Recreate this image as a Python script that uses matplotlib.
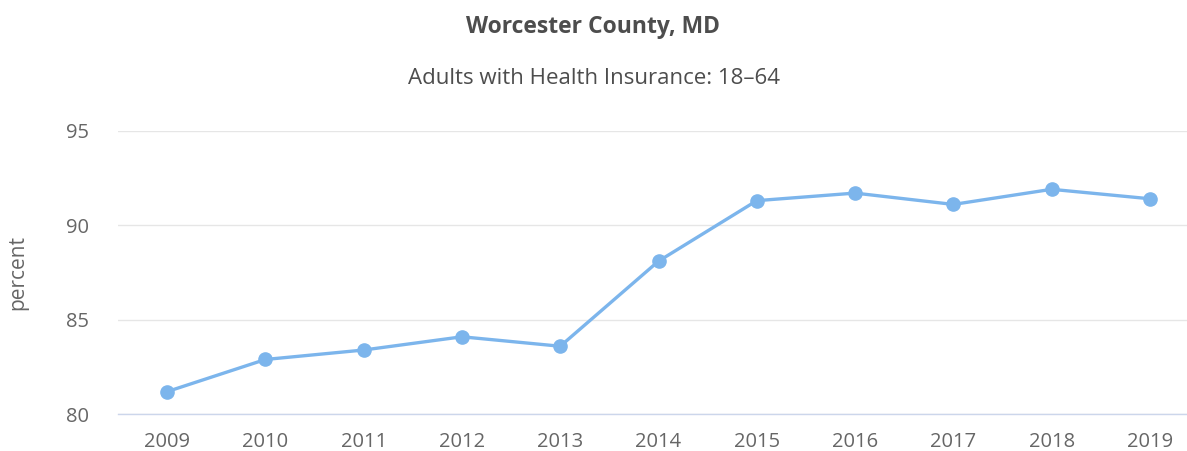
import matplotlib
matplotlib.use("Agg")
import matplotlib.pyplot as plt

plt.rcParams['font.family'] = ['Open Sans', 'DejaVu Sans']

years = ['2009', '2010', '2011', '2012', '2013', '2014',
         '2015', '2016', '2017', '2018', '2019']
insured = [81.2, 82.9, 83.4, 84.1, 83.6, 88.1, 91.3, 91.7, 91.1, 91.9, 91.4]

fig = plt.figure(figsize=(11.87, 4.51), dpi=100)
ax = fig.add_axes([118 / 1187, 1 - 414.3 / 451, (1199 - 118) / 1187, (414.3 - 130.7) / 451])

x = list(range(len(years)))
ax.plot(x, insured, '-', color='#7cb5ec', linewidth=2.4,
        marker='o', markersize=9.5, zorder=3, clip_on=False)

ax.set_xlim(-0.5, len(years) - 0.5)
ax.set_ylim(80, 95)
ax.set_yticks([80, 85, 90, 95])
ax.set_xticks(x)
ax.set_xticklabels(years)

ax.grid(True, axis='y', color='#e6e6e6', linewidth=1)
ax.set_axisbelow(True)
for s in ['top', 'right', 'left']:
    ax.spines[s].set_visible(False)
ax.spines['bottom'].set_color('#ccd6eb')
ax.spines['bottom'].set_linewidth(1)
ax.tick_params(axis='both', length=0, labelsize=14.5, colors='#666666')
ax.tick_params(axis='x', pad=13)
ax.tick_params(axis='y', pad=21)

ax.set_ylabel('percent', fontsize=15, color='#666666', labelpad=27)

fig.text(0.5, 1 - 27 / 451, 'Worcester County, MD', ha='center', va='center',
         fontsize=16.5, fontweight='bold', color='#4d4d4d')
fig.text(0.5, 1 - 78 / 451, 'Adults with Health Insurance: 18\u201364', ha='center',
         va='center', fontsize=16, color='#4d4d4d')

fig.savefig('out.png', dpi=100)
